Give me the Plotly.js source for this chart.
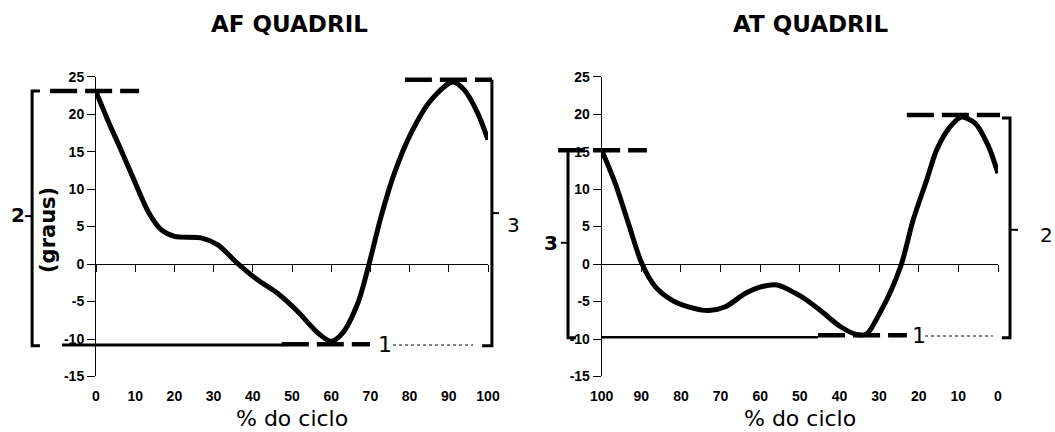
<!DOCTYPE html>
<html>
<head>
<meta charset="utf-8">
<script src="https://cdn.plot.ly/plotly-3.0.1.min.js"></script>
<style>html,body{margin:0;padding:0;background:#fff;}#chart{width:1055px;height:432px;}</style>
</head>
<body>
<div id="chart"></div>
<script>
// ---- data ----
var titles = ["AF QUADRIL", "AT QUADRIL"];
var xAxisTitle = "% do ciclo";
var yAxisTitle = "(graus)";
var xTicks = [0, 10, 20, 30, 40, 50, 60, 70, 80, 90, 100];
var yTicks = [-15, -10, -5, 0, 5, 10, 15, 20, 25];

var afX = [0, 3, 6.4, 9.7, 13.5, 16.6, 20, 26.8, 31, 36.1, 41.2, 46.3, 51.4, 56.6, 59.9, 62.9, 66.8, 69.7, 72.7, 76.1, 80.4, 85.5, 91, 94, 97.4, 100];
var afY = [23.0, 19.2, 15.2, 11.2, 6.8, 4.6, 3.7, 3.5, 2.6, 0.1, -2.1, -3.9, -6.3, -9.2, -10.3, -9.2, -5.2, 0.1, 6.3, 12.1, 17.5, 21.9, 24.3, 23.2, 20.1, 16.6];

var atX = [100, 96.6, 93.3, 89.9, 86.5, 82.3, 78.1, 73, 68.8, 63.7, 59.5, 55.7, 51.1, 48.3, 44.1, 39.9, 35.7, 33.1, 29.8, 27.3, 24.3, 21.4, 18, 15.5, 12.1, 9.2, 5.8, 2.4, 0];
var atY = [15.2, 10.8, 5.5, 0.1, -3.0, -4.8, -5.7, -6.2, -5.7, -3.9, -3.0, -2.8, -3.9, -4.8, -6.5, -8.3, -9.4, -9.3, -6.5, -3.9, 0.1, 5.9, 11.2, 15.2, 18.3, 19.6, 18.8, 15.7, 12.1];

// marker levels (degrees) used by the reference lines / brackets
var afMaxLevel = 24.6, afStartLevel = 23.1, afMinLevel = -10.7;
var atMaxLevel = 19.9, atStartLevel = 15.2, atMinLevel = -9.5;
var bracketLabels = ["2", "3", "1", "3", "2", "1"];

// ---- layout geometry ----
var W = 1055, H = 432;
var yDom = [0.1285, 0.8225];
var yRange = [-15, 25];
var xDomL = [96 / W, 488 / W];
var xDomR = [601.7 / W, 998 / W];
var xRangeL = [0, 100];
var xRangeR = [100, 0];
var zeroPos = yDom[0] + (0 - yRange[0]) / (yRange[1] - yRange[0]) * (yDom[1] - yDom[0]);

function mapX(dom, rng, v) { return dom[0] + (v - rng[0]) / (rng[1] - rng[0]) * (dom[1] - dom[0]); }
function mapY(v) { return yDom[0] + (v - yRange[0]) / (yRange[1] - yRange[0]) * (yDom[1] - yDom[0]); }
function LX(v) { return mapX(xDomL, xRangeL, v); }
function RX(v) { return mapX(xDomR, xRangeR, v); }
function px(p) { return p / W; }
function py(p) { return 1 - p / H; }

var tickFont = {family: "Liberation Sans, Arial, sans-serif", size: 14, color: "#000", weight: "bold"};

var traces = [
  {x: afX, y: afY, xaxis: "x", yaxis: "y", mode: "lines", line: {color: "#000", width: 5, shape: "spline", smoothing: 0.8}, hoverinfo: "skip", cliponaxis: false},
  {x: atX, y: atY, xaxis: "x2", yaxis: "y2", mode: "lines", line: {color: "#000", width: 5, shape: "spline", smoothing: 0.8}, hoverinfo: "skip", cliponaxis: false},
  {x: [50], y: [0], xaxis: "x3", yaxis: "y", mode: "markers", marker: {opacity: 0}, hoverinfo: "skip"},
  {x: [50], y: [0], xaxis: "x4", yaxis: "y2", mode: "markers", marker: {opacity: 0}, hoverinfo: "skip"}
];

function labelAxis(dom, rng, anchor) {
  return {domain: dom, range: rng, autorange: false, anchor: anchor, showline: false, showgrid: false, zeroline: false,
    tickvals: xTicks, ticktext: xTicks.map(String), ticks: "outside", ticklen: 7, tickcolor: "rgba(0,0,0,0)",
    tickfont: tickFont, fixedrange: true};
}
function zeroAxis(base, rng) {
  return {overlaying: base, anchor: "free", position: zeroPos, range: rng, autorange: false, showline: true, linecolor: "#000", linewidth: 1,
    ticks: "outside", ticklen: 7, tickwidth: 1, tickcolor: "#000", tickvals: xTicks, showticklabels: false, showgrid: false, zeroline: false, fixedrange: true};
}
function yAx(anchor) {
  return {domain: yDom, range: yRange, autorange: false, anchor: anchor, showline: true, linecolor: "#000", linewidth: 1,
    ticks: "outside", ticklen: 8, tickwidth: 1, tickcolor: "#000", tickvals: yTicks, ticktext: yTicks.map(String),
    tickfont: tickFont, showgrid: false, zeroline: false, fixedrange: true};
}

function hline(xf0, xf1, yv, w, dash) {
  return {type: "line", xref: "paper", yref: "paper", x0: xf0, x1: xf1, y0: mapY(yv), y1: mapY(yv), line: {color: "#000", width: w, dash: dash || "solid"}};
}
function pathShape(pts, w) {
  var d = pts.map(function (p, i) { return (i ? "L" : "M") + p[0] + "," + p[1]; }).join(" ");
  return {type: "path", xref: "paper", yref: "paper", path: d, line: {color: "#000", width: w}};
}
var dashPat = "27px,8px";

var shapes = [
  // AF
  hline(LX(-11.7), LX(11.0), afStartLevel, 4.5, dashPat),
  hline(LX(78.8), LX(101.0), afMaxLevel, 4.5, dashPat),
  hline(LX(-8.7), LX(47.7), afMinLevel - 0.1, 3),
  hline(LX(47.4), LX(69.9), afMinLevel, 4.5, dashPat),
  hline(LX(75.8), LX(96.2), afMinLevel - 0.1, 1, "dot"),
  pathShape([[LX(-14.3), mapY(afStartLevel)], [LX(-16.3), mapY(afStartLevel)], [LX(-16.3), mapY(-10.9)], [LX(-14.3), mapY(-10.9)]], 3),
  pathShape([[LX(-18.1), mapY(6.4)], [LX(-16.3), mapY(6.4)]], 2),
  pathShape([[LX(98.5), mapY(-10.9)], [LX(101.0), mapY(-10.9)], [LX(101.0), mapY(afMaxLevel)]], 3),
  pathShape([[LX(101.0), mapY(6.8)], [LX(102.8), mapY(6.8)]], 2),
  // AT
  hline(RX(111.0), RX(88.6), atStartLevel, 4.5, dashPat),
  hline(RX(23.0), RX(-0.5), atMaxLevel, 4.5, dashPat),
  hline(RX(100), RX(45.4), atMinLevel - 0.25, 2.5),
  hline(RX(45.4), RX(23.0), atMinLevel, 4.5, dashPat),
  hline(RX(18.4), RX(1.3), atMinLevel - 0.1, 1, "dot"),
  pathShape([[RX(108.5), mapY(atStartLevel)], [RX(108.5), mapY(-9.83)], [RX(106.5), mapY(-9.83)]], 3),
  pathShape([[RX(110.3), mapY(2.84)], [RX(108.5), mapY(2.84)]], 2),
  pathShape([[RX(-1.0), mapY(19.5)], [RX(-3.03), mapY(19.5)], [RX(-3.03), mapY(-9.83)], [RX(-1.0), mapY(-9.83)]], 3),
  pathShape([[RX(-3.03), mapY(4.57)], [RX(-5.05), mapY(4.57)]], 2)
];

function ann(text, x, y, size, weight, angle, fam) {
  return {text: text, xref: "paper", yref: "paper", x: x, y: y, xanchor: "center", yanchor: "middle", showarrow: false,
    textangle: angle || 0, font: {family: fam || "DejaVu Sans", size: size, color: "#000", weight: weight || "normal"}};
}

var annotations = [
  ann(titles[0], px(289), py(24), 23, "bold"),
  ann(titles[1], px(810), py(24), 23, "bold"),
  ann(xAxisTitle, px(292), py(418), 22),
  ann(xAxisTitle, px(800), py(418), 22),
  ann(yAxisTitle, px(48.5), py(230.5), 21, "bold", -90),
  ann(bracketLabels[0], px(17.5), py(214.5), 20, "bold"),
  ann(bracketLabels[1], px(513), py(224.5), 20),
  ann(bracketLabels[2], px(385), py(344), 22),
  ann(bracketLabels[3], px(550.5), py(242.5), 20, "bold"),
  ann(bracketLabels[4], px(1046.5), py(235), 20),
  ann(bracketLabels[5], px(919), py(335), 22)
];

var layout = {
  width: W, height: H,
  margin: {l: 0, r: 0, t: 0, b: 0, pad: 0},
  paper_bgcolor: "#fff", plot_bgcolor: "rgba(0,0,0,0)",
  showlegend: false,
  font: {family: "DejaVu Sans", color: "#000"},
  xaxis: labelAxis(xDomL, xRangeL, "y"),
  xaxis2: labelAxis(xDomR, xRangeR, "y2"),
  xaxis3: zeroAxis("x", xRangeL),
  xaxis4: zeroAxis("x2", xRangeR),
  yaxis: yAx("x"),
  yaxis2: yAx("x2"),
  shapes: shapes,
  annotations: annotations
};

Plotly.newPlot("chart", traces, layout, {staticPlot: true, displayModeBar: false});
</script>
</body>
</html>
